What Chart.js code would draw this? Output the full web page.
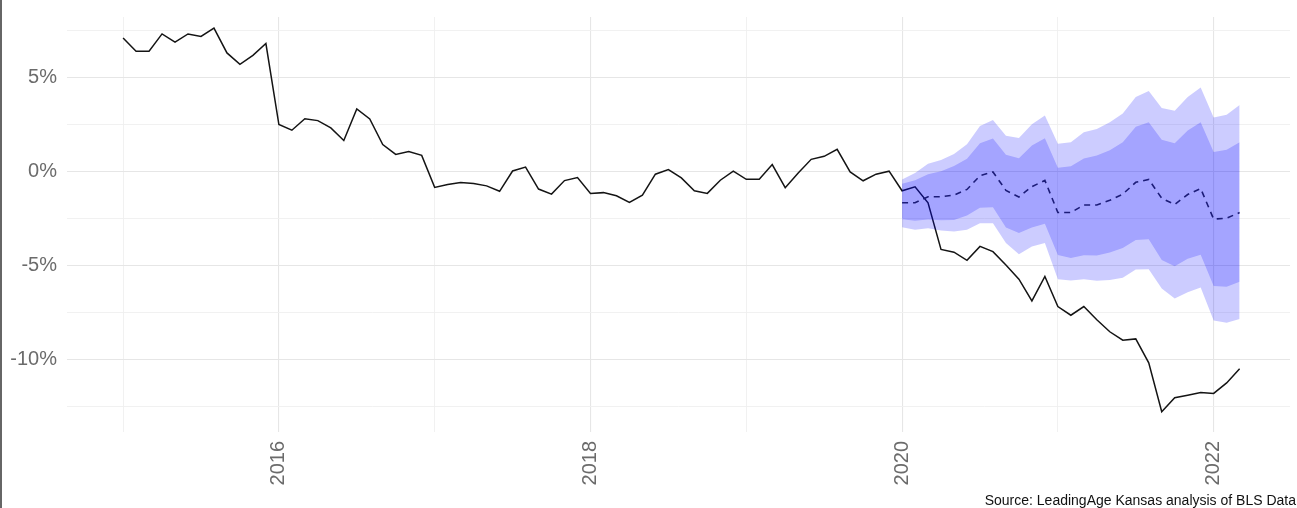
<!DOCTYPE html>
<html>
<head>
<meta charset="utf-8">
<title>Employment change vs. forecast</title>
<script src="https://cdn.jsdelivr.net/npm/chart.js@4.4.1/dist/chart.umd.min.js"></script>
<style>
  html, body { margin: 0; padding: 0; background: #ffffff; }
  #wrap { position: relative; width: 1297px; height: 508px; overflow: hidden; }
  #edge { position: absolute; left: 0; top: 0; width: 2px; height: 508px; background: #666666; }
  canvas { display: block; }
</style>
</head>
<body>
<div id="wrap">
  <canvas id="chart" width="1297" height="508"></canvas>
  <div id="edge"></div>
</div>
<script>
// Monthly series start dates
const actualStart = '2015-01';
const forecastStart = '2020-01';

// Year-over-year change (%), Jan 2015 – Mar 2022
const actual = [
  7.12, 6.42, 6.42, 7.34, 6.90, 7.34, 7.21, 7.65, 6.33, 5.72, 6.20, 6.83,
  2.52, 2.22, 2.83, 2.73, 2.34, 1.67, 3.35, 2.82, 1.46, 0.93, 1.08, 0.88,
  -0.82, -0.67, -0.56, -0.61, -0.74, -1.03, 0.05, 0.26, -0.91, -1.18, -0.46, -0.30,
  -1.14, -1.10, -1.27, -1.62, -1.23, -0.12, 0.13, -0.32, -1.00, -1.14, -0.44, 0.04,
  -0.39, -0.39, 0.39, -0.84, -0.05, 0.67, 0.83, 1.20, 0.00, -0.47, -0.12, 0.04,
  -1.00, -0.79, -1.64, -4.12, -4.27, -4.70, -3.96, -4.24, -4.95, -5.70, -6.86, -5.56,
  -7.16, -7.62, -7.16, -7.86, -8.50, -8.95, -8.88, -10.15, -12.75, -12.01, -11.87, -11.73,
  -11.78, -11.22, -10.46
];

// Forecast mean, Jan 2020 – Mar 2022
const forecast = [
  -1.64, -1.64, -1.32, -1.32, -1.23, -0.93, -0.20, 0.00, -0.98, -1.33, -0.78, -0.45,
  -2.16, -2.16, -1.76, -1.76, -1.51, -1.18, -0.55, -0.40, -1.40, -1.73, -1.20, -0.88,
  -2.51, -2.46, -2.16
];

// 80% interval
const inner80Upper = [
  -0.63, -0.44, -0.12, 0.04, 0.32, 0.70, 1.52, 1.78, 0.92, 0.73, 1.41, 1.79,
  0.22, 0.30, 0.71, 0.88, 1.15, 1.58, 2.41, 2.64, 1.71, 1.53, 2.20, 2.64,
  1.06, 1.18, 1.58
];
const inner80Lower = [
  -2.51, -2.60, -2.53, -2.57, -2.55, -2.31, -1.90, -1.88, -2.95, -3.25, -2.95, -2.75,
  -4.42, -4.57, -4.43, -4.45, -4.29, -4.04, -3.62, -3.58, -4.68, -5.01, -4.62, -4.40,
  -6.06, -6.10, -5.84
];

// 95% interval
const outer95Upper = [
  -0.40, -0.05, 0.44, 0.64, 0.96, 1.47, 2.44, 2.76, 1.92, 1.80, 2.53, 3.00,
  1.50, 1.58, 2.11, 2.29, 2.64, 3.11, 3.99, 4.31, 3.40, 3.26, 3.99, 4.49,
  2.90, 3.04, 3.56
];
const outer95Lower = [
  -2.94, -3.08, -3.00, -3.11, -3.17, -3.08, -2.73, -2.73, -3.78, -4.38, -3.96, -3.78,
  -5.71, -5.77, -5.71, -5.78, -5.75, -5.63, -5.19, -5.17, -6.20, -6.73, -6.40, -6.15,
  -7.90, -8.02, -7.82
];

// Axis ticks
const xTickYears = [2015, 2016, 2017, 2018, 2019, 2020, 2021, 2022];
const xLabelYears = [2016, 2018, 2020, 2022];
const yTickValues = [-12.5, -10, -7.5, -5, -2.5, 0, 2.5, 5, 7.5];
const yLabelValues = [-10, -5, 0, 5];

const sourceNote = 'Source: LeadingAge Kansas analysis of BLS Data';

// month string -> decimal year
function toYear(ym) {
  const [y, m] = ym.split('-').map(Number);
  return y + (m - 1) / 12;
}
function series(start, values) {
  const x0 = toYear(start);
  return values.map((v, i) => ({ x: x0 + i / 12, y: v }));
}

const bandFill = 'rgba(0, 0, 255, 0.2)';
const fontFamily = '"Liberation Sans", Arial, Helvetica, sans-serif';
const axisText = '#6b6b6b';

const sourcePlugin = {
  id: 'sourceNote',
  afterDraw(chart) {
    const ctx = chart.ctx;
    ctx.save();
    ctx.font = '14px ' + fontFamily;
    ctx.fillStyle = '#111111';
    ctx.textAlign = 'right';
    ctx.textBaseline = 'alphabetic';
    ctx.fillText(sourceNote, 1296, 505);
    ctx.restore();
  }
};

// fixed axis boxes, no automatic label padding
function fixBox(size) {
  return s => {
    if (s.isHorizontal()) { s.height = size; } else { s.width = size; }
    s.paddingTop = 0; s.paddingBottom = 0; s.paddingLeft = 0; s.paddingRight = 0;
  };
}

const base = { pointRadius: 0, pointHoverRadius: 0, tension: 0 };

new Chart(document.getElementById('chart'), {
  type: 'line',
  data: {
    datasets: [
      Object.assign({}, base, {
        label: 'Forecast',
        data: series(forecastStart, forecast),
        borderColor: '#1c1c78',
        borderWidth: 1.6,
        borderDash: [6, 5],
        fill: false
      }),
      Object.assign({}, base, {
        label: '80% low',
        data: series(forecastStart, inner80Lower),
        borderWidth: 0,
        borderColor: 'rgba(0,0,0,0)',
        fill: false
      }),
      Object.assign({}, base, {
        label: '80% high',
        data: series(forecastStart, inner80Upper),
        borderWidth: 0,
        borderColor: 'rgba(0,0,0,0)',
        backgroundColor: bandFill,
        fill: '-1'
      }),
      Object.assign({}, base, {
        label: '95% low',
        data: series(forecastStart, outer95Lower),
        borderWidth: 0,
        borderColor: 'rgba(0,0,0,0)',
        fill: false
      }),
      Object.assign({}, base, {
        label: '95% high',
        data: series(forecastStart, outer95Upper),
        borderWidth: 0,
        borderColor: 'rgba(0,0,0,0)',
        backgroundColor: bandFill,
        fill: '-1'
      }),
      Object.assign({}, base, {
        label: 'Actual',
        data: series(actualStart, actual),
        borderColor: '#141414',
        borderWidth: 1.5,
        fill: false
      })
    ]
  },
  options: {
    responsive: false,
    devicePixelRatio: 1,
    animation: false,
    layout: { padding: { top: 17, right: 7, left: 0, bottom: 0 } },
    plugins: {
      legend: { display: false },
      tooltip: { enabled: false }
    },
    scales: {
      x: {
        type: 'linear',
        min: 2014.64,
        max: 2022.49,
        border: { display: false },
        grid: {
          drawTicks: false,
          color: ctx => xLabelYears.includes(ctx.tick && ctx.tick.value) ? '#e6e6e6' : '#efefef',
          lineWidth: ctx => xLabelYears.includes(ctx.tick && ctx.tick.value) ? 1.1 : 0.9
        },
        afterBuildTicks: s => { s.ticks = xTickYears.map(v => ({ value: v })); },
        afterFit: fixBox(76),
        ticks: {
          autoSkip: false,
          minRotation: 90,
          maxRotation: 90,
          padding: 9,
          color: axisText,
          font: { family: fontFamily, size: 20 },
          callback: v => xLabelYears.includes(v) ? String(v) : ''
        }
      },
      y: {
        type: 'linear',
        min: -13.83,
        max: 8.24,
        border: { display: false },
        grid: {
          drawTicks: false,
          color: ctx => yLabelValues.includes(ctx.tick && ctx.tick.value) ? '#e6e6e6' : '#efefef',
          lineWidth: ctx => yLabelValues.includes(ctx.tick && ctx.tick.value) ? 1.1 : 0.9
        },
        afterBuildTicks: s => { s.ticks = yTickValues.map(v => ({ value: v })); },
        afterFit: fixBox(67),
        ticks: {
          autoSkip: false,
          padding: 10,
          color: axisText,
          font: { family: fontFamily, size: 20 },
          callback: v => yLabelValues.includes(v) ? v + '%' : ''
        }
      }
    }
  },
  plugins: [sourcePlugin]
});
</script>
</body>
</html>
